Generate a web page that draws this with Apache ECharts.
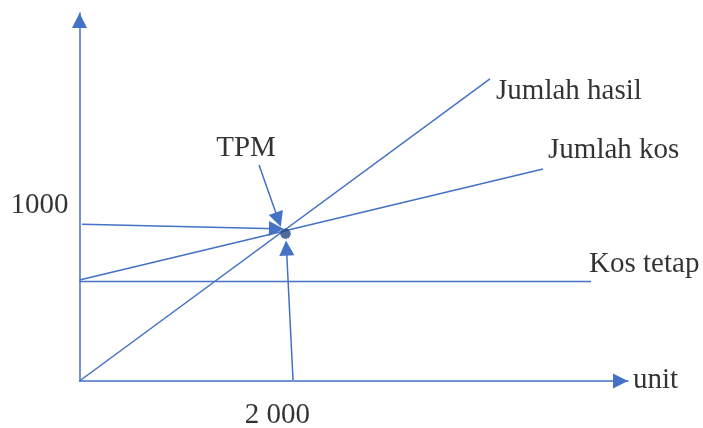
<!DOCTYPE html>
<html>
<head>
<meta charset="utf-8">
<script src="https://cdn.jsdelivr.net/npm/echarts@6/dist/echarts.min.js"></script>
<style>
html,body{margin:0;padding:0;background:#fff;}
#chart{width:703px;height:428px;}
</style>
</head>
<body>
<div id="chart"></div>
<script>
// Data (units on x, value on y)
const revenueLine = [[0, 0], [3985, 2052]];      // Jumlah hasil
const totalCostLine = [[0, 686], [4500, 1440]];  // Jumlah kos
const fixedCostLine = [[0, 676], [4966, 676]];   // Kos tetap
const breakEvenPoint = [[2000, 1000]];           // TPM
const arrowToY = [[24, 1065], [1912, 1034]];
const arrowToX = [[2073, 7], [2009, 903]];
const arrowTPM = [[1743, 1467], [1930, 1096]];
const leftLabels = [[4044, 1970, 'Jumlah hasil'], [4549, 1569, 'Jumlah kos'], [4947, 795, 'Kos tetap'], [5374, 7, 'unit']];
const centerLabels = [[1617, 1580, 'TPM'], [-388, 1190, '1000'], [1922, -231, '2 000']];
const xMax = 5325;
const yMax = 2500;

const blue = '#4472C4';
const chart = echarts.init(document.getElementById('chart'), null, {renderer: 'canvas'});

function lineSeries(pts) {
  return {
    type: 'line', data: pts, symbol: 'none', silent: true,
    lineStyle: {color: blue, width: 1.5}, clip: false, animation: false
  };
}
function arrowSeries(pts) {
  return {
    type: 'lines', coordinateSystem: 'cartesian2d', silent: true, animation: false,
    symbol: ['none', 'triangle'], symbolSize: [15, 15],
    lineStyle: {color: blue, width: 1.5, opacity: 1},
    itemStyle: {color: blue},
    data: [{coords: pts}]
  };
}
const font = {fontFamily: 'Liberation Serif', fontSize: 29, color: '#000'};

chart.setOption({
  animation: false,
  grid: {left: 79.5, right: 75, top: 13, bottom: 47},
  xAxis: {
    type: 'value', min: 0, max: xMax,
    axisLine: {show: true, onZero: false, symbol: ['none', 'triangle'], symbolSize: [15, 15], symbolOffset: [0, -7.5], lineStyle: {color: blue, width: 1.5}},
    axisTick: {show: false}, axisLabel: {show: false}, splitLine: {show: false}
  },
  yAxis: {
    type: 'value', min: 0, max: yMax,
    axisLine: {show: true, onZero: false, symbol: ['none', 'triangle'], symbolSize: [15, 15], symbolOffset: [0, -7.5], lineStyle: {color: blue, width: 1.5}},
    axisTick: {show: false}, axisLabel: {show: false}, splitLine: {show: false}
  },
  series: [
    lineSeries(revenueLine),
    lineSeries(totalCostLine),
    lineSeries(fixedCostLine),
    arrowSeries(arrowToY),
    arrowSeries(arrowToX),
    arrowSeries(arrowTPM),
    {
      type: 'scatter', data: breakEvenPoint, symbolSize: 10, z: 5, silent: true,
      itemStyle: {color: '#24457F', borderColor: '#3A5F9E', borderWidth: 1, borderType: 'dotted'}
    },
    {
      type: 'scatter', data: leftLabels, symbolSize: 0, clip: false, silent: true,
      label: Object.assign({show: true, position: 'right', distance: 0, formatter: p => p.value[2]}, font)
    },
    {
      type: 'scatter', data: centerLabels, symbolSize: 0, clip: false, silent: true,
      label: Object.assign({show: true, position: 'inside', formatter: p => p.value[2]}, font)
    }
  ]
});
</script>
</body>
</html>
